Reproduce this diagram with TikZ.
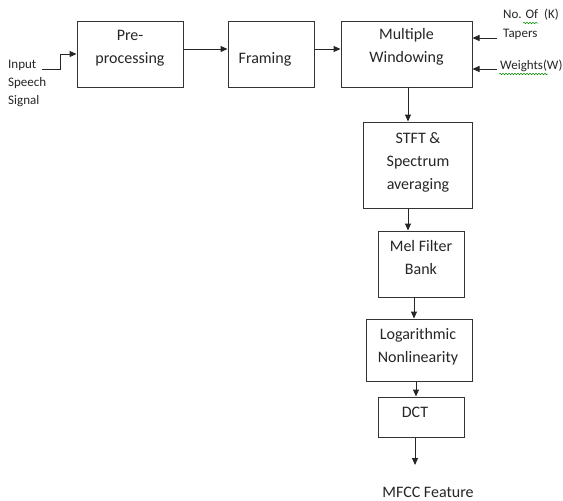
\documentclass[tikz,border=0pt]{standalone}
\usepackage{fontspec}
\setmainfont{Carlito}
\usetikzlibrary{arrows.meta,decorations.pathmorphing}
\begin{document}
\begin{tikzpicture}[x=1pt,y=-1pt,
  box/.style={draw=black!80,line width=1pt,rectangle,inner sep=0pt},
  txt/.style={font=\fontsize{16}{23}\selectfont,align=center,inner sep=0pt,text=black!85},
  small/.style={font=\fontsize{13}{18}\selectfont,align=left,inner sep=0pt,text=black!85},
  arr/.style={draw=black!85,line width=1pt,-{Triangle[length=7pt,width=6pt]}},
  squig/.style={draw=green!55!black,line width=0.5pt,decorate,decoration={snake,segment length=3pt,amplitude=0.7pt}}]
\useasboundingbox (0,0) rectangle (563,501);
\fill[white] (0,0) rectangle (563,501);
% boxes
\node[box,minimum width=106pt,minimum height=66pt] (pre) at (130,54) {};
\node[box,minimum width=86pt,minimum height=66pt] (fr) at (271,54) {};
\node[box,minimum width=131pt,minimum height=66pt] (mw) at (406.5,54) {};
\node[box,minimum width=109pt,minimum height=86pt] (stft) at (417.5,165) {};
\node[box,minimum width=86pt,minimum height=66pt] (mel) at (421,264) {};
\node[box,minimum width=106pt,minimum height=62pt] (log) at (419,350) {};
\node[box,minimum width=86pt,minimum height=40pt] (dct) at (421,417) {};
% box texts
\node[txt] (tpre) at (130,48) {Pre-\\processing};
\node[txt] (tfr) at (265,59) {Framing};
\node[txt] (tmw) at (406.5,47) {Multiple\\Windowing};
\node[txt] (tstft) at (418,162) {STFT \&\\Spectrum\\averaging};
\node[txt] (tmel) at (421,258) {Mel Filter\\Bank};
\node[txt] (tlog) at (418,346.5) {Logarithmic\\Nonlinearity};
\node[txt] (tdct) at (415,412) {DCT};
\node[txt] (mfcc) at (428,492) {MFCC Feature};
% side labels
\node[small,anchor=west] (inp) at (8,83) {Input\\Speech\\Signal};
\node[small,anchor=west] (k1) at (503,15) {No. Of\ \ (K)};
\node[small,anchor=west] (k2) at (503,34) {Tapers};
\node[small,anchor=west] (wl) at (500,66) {Weights(W)};
\draw[squig] (523,23) -- (538,23);
\draw[squig] (499,74) -- (548,74);
% coordinates
\coordinate (in) at (42,69);
\coordinate (kin) at (497,38);
\coordinate (win) at (497,69);
\coordinate (out) at (415,465);
% connectors
\draw[arr] (in) -- (60,69) |- (pre.west);
\draw[arr] ([yshift=5pt]pre.east) -- ([yshift=5pt]fr.west);
\draw[arr] ([yshift=5pt]fr.east) -- ([yshift=5pt]mw.west);
\draw[arr] (kin) -- (kin -| mw.east);
\draw[arr] (win) -- (win -| mw.east);
\draw[arr] ([xshift=1.5pt]mw.south) -- ([xshift=1.5pt]mw.south |- stft.north);
\draw[arr] ([xshift=-9.5pt]stft.south) -- ([xshift=-9.5pt]stft.south |- mel.north);
\draw[arr] ([xshift=-7pt]mel.south) -- ([xshift=-7pt]mel.south |- log.north);
\draw[arr] ([xshift=-5pt]dct.north |- log.south) -- ([xshift=-5pt]dct.north);
\draw[arr] (dct.south -| out) -- (out);
\end{tikzpicture}
\end{document}
